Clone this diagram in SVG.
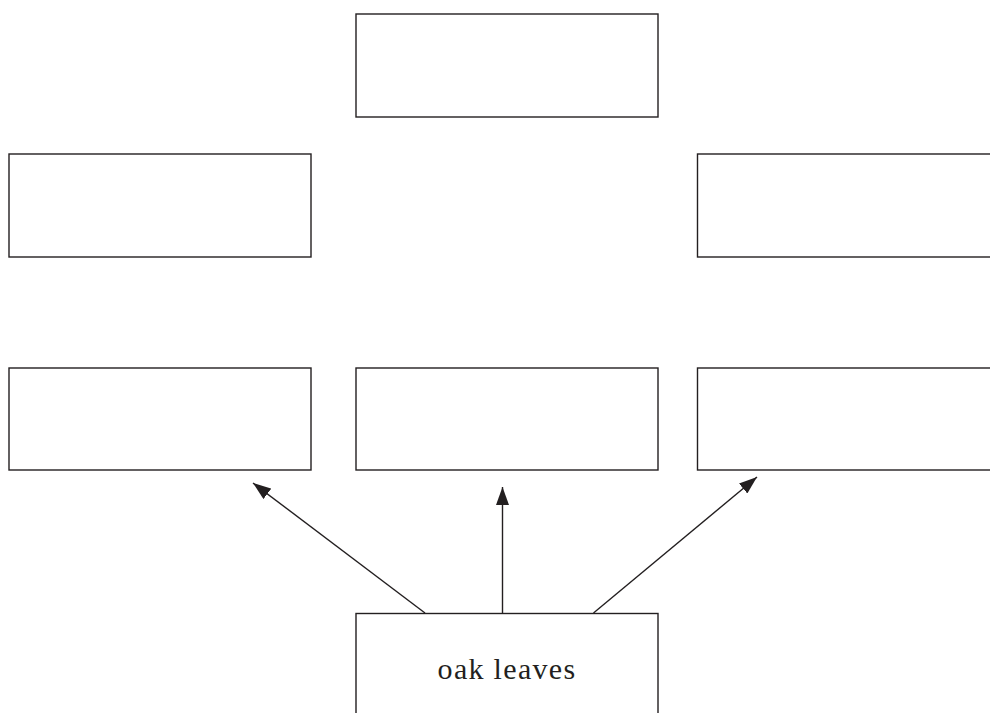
<svg xmlns="http://www.w3.org/2000/svg" width="990" height="713" viewBox="0 0 990 713">
<defs>
<style>
.box{fill:#fff;stroke:#231f20;stroke-width:1.4}
.conn{stroke:#231f20;stroke-width:1.4;fill:none}
.lbl{font-family:"Liberation Serif","Times New Roman",serif;font-size:30px;fill:#231f20;letter-spacing:1.3px}
</style>
<marker id="ah" viewBox="0 0 18 13" refX="18" refY="6.5" markerWidth="18" markerHeight="13" markerUnits="userSpaceOnUse" orient="auto">
<path d="M0,0 L18,6.5 L0,13 Z" fill="#231f20"/>
</marker>
</defs>
<g id="n-top"><rect class="box" x="356" y="14" width="302" height="103"/></g>
<g id="n-midleft"><rect class="box" x="9" y="154" width="302" height="103"/></g>
<g id="n-midright"><rect class="box" x="697.5" y="154" width="302" height="103"/></g>
<g id="n-botleft"><rect class="box" x="9" y="368" width="302" height="102"/></g>
<g id="n-botcenter"><rect class="box" x="356" y="368" width="302" height="102"/></g>
<g id="n-botright"><rect class="box" x="697.5" y="368" width="302" height="102"/></g>
<g id="n-oak"><rect class="box" x="356" y="613.5" width="302" height="110"/>
<text class="lbl" x="507" y="679" text-anchor="middle">oak leaves</text></g>
<g id="connectors">
<line class="conn" x1="425" y1="613" x2="253" y2="483" marker-end="url(#ah)"/>
<line class="conn" x1="502.5" y1="613" x2="502.5" y2="487" marker-end="url(#ah)"/>
<line class="conn" x1="593.5" y1="613" x2="757" y2="477" marker-end="url(#ah)"/>
</g>
</svg>
